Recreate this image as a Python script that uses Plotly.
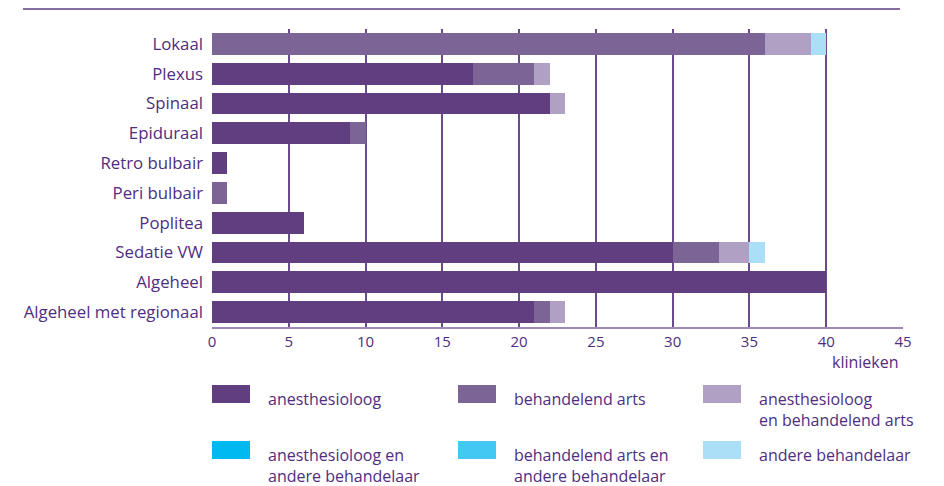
import plotly.graph_objects as go

# categories top -> bottom
categories = [
    "Lokaal", "Plexus", "Spinaal", "Epiduraal", "Retro bulbair",
    "Peri bulbair", "Poplitea", "Sedatie VW", "Algeheel", "Algeheel met regionaal",
]

# number of clinics per type of performer
anesthesioloog = [0, 17, 22, 9, 1, 0, 6, 30, 40, 21]
behandelend_arts = [36, 4, 0, 1, 0, 1, 0, 3, 0, 1]
anes_en_behandelend = [3, 1, 1, 0, 0, 0, 0, 2, 0, 1]
anes_en_andere = [0, 0, 0, 0, 0, 0, 0, 0, 0, 0]
behandelend_en_andere = [0, 0, 0, 0, 0, 0, 0, 0, 0, 0]
andere_behandelaar = [1, 0, 0, 0, 0, 0, 0, 1, 0, 0]

series = [
    ("anesthesioloog", anesthesioloog, "#613e7f"),
    ("behandelend arts", behandelend_arts, "#7c6496"),
    ("anesthesioloog<br>en behandelend arts", anes_en_behandelend, "#b0a1c4"),
    ("anesthesioloog en<br>andere behandelaar", anes_en_andere, "#00b9f0"),
    ("behandelend arts en<br>andere behandelaar", behandelend_en_andere, "#43c8f3"),
    ("andere behandelaar", andere_behandelaar, "#abdff8"),
]

x_ticks = [0, 5, 10, 15, 20, 25, 30, 35, 40, 45]

TXT = "#4f2d7f"
FONT = "Open Sans"

# page body has an 8px margin, so work in figure coords = screen - 8
OFF = 8
W, H = 944 - OFF, 486 - OFF
L, R, T, B = 212 - OFF, 903 - OFF, 29 - OFF, 327 - OFF


def px(x):
    return (x - OFF - L) / (R - L)


def py(y):
    return (B - (y - OFF)) / (B - T)


fig = go.Figure()
for name, vals, col in series:
    fig.add_trace(go.Bar(
        y=categories, x=vals, name=name, orientation="h",
        marker=dict(color=col, line=dict(width=0)),
        showlegend=False,
    ))

shapes = [
    # rule across the top
    dict(type="line", xref="paper", yref="paper", x0=px(23), x1=px(900),
         y0=py(9), y1=py(9), line=dict(color="#5e3c7f", width=1.5)),
]
annotations = [
    dict(text="klinieken", xref="paper", yref="paper", x=px(901), y=py(362),
         xanchor="right", yanchor="middle", showarrow=False,
         font=dict(family=FONT, size=16, color=TXT)),
]

# legend grid: 3 columns x 2 rows, one annotation per text line
col_x = [212, 458, 703]
row_y = [394, 450]
for i, (name, vals, col) in enumerate(series):
    cx = col_x[i % 3]
    ry = row_y[i // 3]
    shapes.append(dict(type="rect", xref="paper", yref="paper",
                       x0=px(cx), x1=px(cx + 38), y0=py(ry - 9), y1=py(ry + 9),
                       fillcolor=col, line=dict(width=0)))
    for j, line in enumerate(name.split("<br>")):
        annotations.append(dict(text=line, xref="paper", yref="paper",
                                x=px(cx + 55), y=py(ry + 5 + 21 * j),
                                xanchor="left", yanchor="middle",
                                showarrow=False, borderpad=0,
                                font=dict(family=FONT, size=16, color=TXT)))

fig.update_layout(
    barmode="stack",
    bargap=0.27,
    width=W, height=H,
    margin=dict(l=L, r=W - R, t=T, b=H - B, pad=0),
    paper_bgcolor="white",
    plot_bgcolor="white",
    font=dict(family=FONT, size=15, color=TXT),
    xaxis=dict(
        range=[0, 45], tickvals=x_ticks, showgrid=True,
        gridcolor="#6a4c8c", gridwidth=1.5, zeroline=False,
        showline=True, linecolor="#9d88b8", linewidth=2,
        ticks="", tickfont=dict(family=FONT, size=15, color=TXT),
        fixedrange=True,
    ),
    yaxis=dict(
        autorange="reversed", showgrid=False, zeroline=False, ticks="",
        ticklabelstandoff=8, tickfont=dict(family=FONT, size=16.8, color=TXT),
        fixedrange=True,
    ),
    shapes=shapes,
    annotations=annotations,
)

fig.write_html("out.html")
